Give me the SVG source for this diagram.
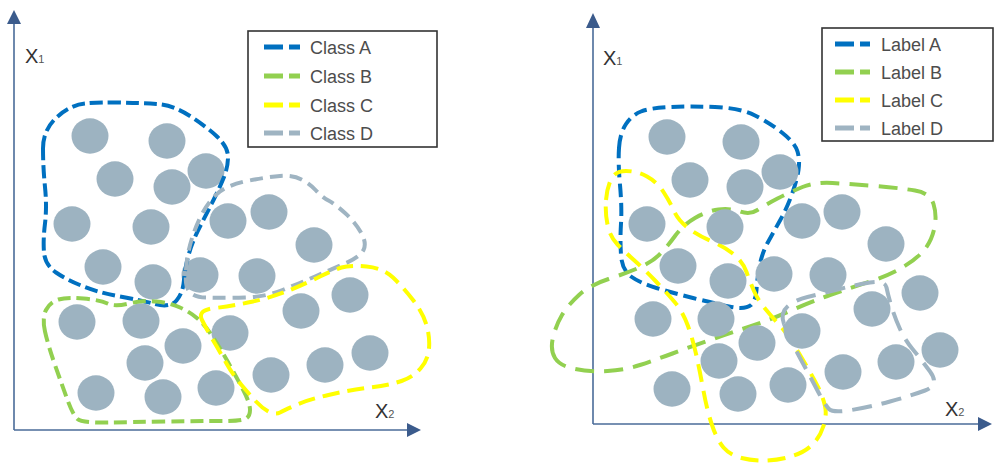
<svg xmlns="http://www.w3.org/2000/svg" width="995" height="463" viewBox="0 0 995 463">
  <defs>
    <style>
      .axis { stroke: #4a6b99; stroke-width: 1.6; fill: none; }
      .head { fill: #3b5b8c; }
      .pt { fill: #9db3c1; }
      .hull { fill: none; stroke-width: 4; stroke-linejoin: round; }
      .a { stroke: #0070c0; }
      .b { stroke: #92d050; }
      .c { stroke: #ffff00; }
      .d { stroke: #9fb4c2; }
      .key { fill: #ffffff; stroke: #333333; stroke-width: 1.6; }
      .keyline { stroke-width: 5; stroke-dasharray: 19 6; }
      .keytxt { font-family: "Liberation Sans", Arial, sans-serif; font-size: 18px; fill: #4d4d4d; }
      .ax { font-family: "Liberation Sans", Arial, sans-serif; font-size: 20px; fill: #333333; }
      .sub { font-size: 11px; fill: #555555; }
    </style>
    <ellipse id="dot" class="pt" cx="0" cy="0" rx="18.5" ry="17.7"/>
  </defs>

  <!-- left panel: axes -->
  <g id="left-axes">
    <line class="axis" x1="14" y1="22" x2="14" y2="430"/>
    <line class="axis" x1="14" y1="430" x2="409" y2="430"/>
    <polygon class="head" points="14,10 7,24 21,24"/>
    <polygon class="head" points="421,430 407,423 407,437"/>
    <text class="ax" x="25" y="63">X<tspan class="sub">1</tspan></text>
    <text class="ax" x="375" y="418">X<tspan class="sub">2</tspan></text>
  </g>

  <!-- left panel: samples -->
  <g id="left-points">
    <use href="#dot" x="90" y="136"/>
    <use href="#dot" x="167" y="141"/>
    <use href="#dot" x="115" y="179"/>
    <use href="#dot" x="172" y="187"/>
    <use href="#dot" x="206" y="171"/>
    <use href="#dot" x="72" y="224"/>
    <use href="#dot" x="151" y="227"/>
    <use href="#dot" x="228" y="221"/>
    <use href="#dot" x="269" y="212"/>
    <use href="#dot" x="103" y="267"/>
    <use href="#dot" x="153" y="282"/>
    <use href="#dot" x="200" y="275"/>
    <use href="#dot" x="257" y="276"/>
    <use href="#dot" x="314" y="245"/>
    <use href="#dot" x="77" y="322"/>
    <use href="#dot" x="141" y="321"/>
    <use href="#dot" x="183" y="346"/>
    <use href="#dot" x="145" y="363"/>
    <use href="#dot" x="230" y="333"/>
    <use href="#dot" x="301" y="311"/>
    <use href="#dot" x="350" y="295"/>
    <use href="#dot" x="96" y="393"/>
    <use href="#dot" x="163" y="397"/>
    <use href="#dot" x="216" y="388"/>
    <use href="#dot" x="271" y="375"/>
    <use href="#dot" x="325" y="365"/>
    <use href="#dot" x="370" y="353"/>
  </g>

  <!-- left panel: class boundaries -->
  <g id="left-classes">
    <path id="class-a" class="hull a" stroke-dasharray="13 5" d="M43,148.5 Q43,130 56.5,117.5 Q70,105 85,103.5 Q100,102 120,102.5 Q140,103 156.5,104 Q173,105 190,116 Q207,127 217.5,137 Q228,147 228,157 Q228,167 224,177 Q220,187 213.5,200 Q207,213 200,226.5 Q193,240 189,253.5 Q185,267 184,280 Q183,293 176.5,300.5 Q170,308 155,304 Q140,300 120,296.5 Q100,293 83.5,286.5 Q67,280 56,272.5 Q45,265 44,252.5 Q43,240 45,223.5 Q47,207 45,187 Q43,167 43,148.5 Z"/>
    <path id="class-d" class="hull d" stroke-dasharray="13 7" d="M206,297.5 Q187,297 186,282.5 Q185,268 188.5,251.5 Q192,235 199.5,219 Q207,203 217,194 Q227,185 247,181 Q267,177 280,176 Q293,175 301.5,179.5 Q310,184 316,190.5 Q322,197 328.5,200.5 Q335,204 345,213 Q355,222 361,232.5 Q367,243 363.5,250 Q360,257 345,263.5 Q330,270 315,276.5 Q300,283 282.5,290 Q265,297 245,297.5 Q225,298 206,297.5 Z"/>
    <path id="class-b" class="hull b" stroke-dasharray="13 6" d="M45,331.5 Q42,318 46,310 Q50,302 58.5,299.5 Q67,297 83.5,298.5 Q100,300 107.5,303.5 Q115,307 129,303.5 Q143,300 156.5,301.5 Q170,303 180,307.5 Q190,312 197.5,318.5 Q205,325 212.5,336.5 Q220,348 228.5,363 Q237,378 243.5,390.5 Q250,403 250,410 Q250,417 245,419 Q240,421 220,421 Q200,421 166.5,421.5 Q133,422 107.5,422.5 Q82,423 77.5,419 Q73,415 67.5,400 Q62,385 55,365 Q48,345 45,331.5 Z"/>
    <path id="class-c" class="hull c" stroke-dasharray="17 8" d="M202,320 Q197,310 215,308 Q233,306 253,301.5 Q273,297 290,290 Q307,283 320,276.5 Q333,270 341.5,267.5 Q350,265 366.5,266.5 Q383,268 393,277.5 Q403,287 413,300 Q423,313 426.5,325 Q430,337 429,348.5 Q428,360 420.5,368.5 Q413,377 401.5,381 Q390,385 370,387.5 Q350,390 328.5,395 Q307,400 296,405 Q285,410 280,412.5 Q275,415 268.5,411.5 Q262,408 256,401.5 Q250,395 241.5,385 Q233,375 226.5,363.5 Q220,352 213.5,341 Q207,330 202,320 Z"/>
  </g>

  <!-- left legend -->
  <g id="left-legend">
    <rect class="key" x="248" y="31" width="189" height="116"/>
    <line class="keyline a" x1="264" y1="47" x2="300" y2="47"/>
    <line class="keyline b" x1="264" y1="76" x2="300" y2="76"/>
    <line class="keyline c" x1="264" y1="105" x2="300" y2="105"/>
    <line class="keyline d" x1="264" y1="133" x2="300" y2="133"/>
    <text class="keytxt" x="310" y="53.5">Class A</text>
    <text class="keytxt" x="310" y="82.5">Class B</text>
    <text class="keytxt" x="310" y="111.5">Class C</text>
    <text class="keytxt" x="310" y="139.5">Class D</text>
  </g>

  <!-- right panel: axes -->
  <g id="right-axes">
    <line class="axis" x1="593" y1="25" x2="593" y2="424"/>
    <line class="axis" x1="593" y1="424" x2="980" y2="424"/>
    <polygon class="head" points="593,13 586,28 600,28"/>
    <polygon class="head" points="992,424 978,417 978,431"/>
    <text class="ax" x="603" y="65">X<tspan class="sub">1</tspan></text>
    <text class="ax" x="945" y="416">X<tspan class="sub">2</tspan></text>
  </g>

  <!-- right panel: label boundaries (drawn beneath the samples) -->
  <g id="right-labels">
    <path id="label-a" class="hull a" stroke-dasharray="13 6" d="M619,148 Q620,133 626,124 Q632,115 641,111.5 Q650,108 670,107 Q690,106 715,107 Q740,108 755,115.5 Q770,123 782.5,133 Q795,143 797.5,151.5 Q800,160 798.5,170 Q797,180 792,194 Q787,208 780,220.5 Q773,233 767.5,243 Q762,253 759.5,266.5 Q757,280 756.5,290 Q756,300 751,305 Q745,310 729,306.5 Q713,303 693,298 Q673,293 656.5,288 Q640,283 631,276.5 Q622,270 621,255 Q620,240 621,223.5 Q622,207 620,185 Q618,163 619,148 Z"/>
    <path id="label-b" class="hull b" stroke-dasharray="19 10" d="M555,358 Q550,350 553,337.5 Q556,325 562,315 Q568,305 579,295 Q590,285 608.5,279 Q627,273 639.5,267.5 Q652,262 659.5,254.5 Q667,247 675,236 Q683,225 695,218 Q707,211 718.5,209.5 Q730,208 740,211.5 Q750,215 757.5,210 Q765,205 777.5,198.5 Q790,192 802.5,187 Q815,182 832.5,183 Q850,184 875,186 Q900,188 915,190.5 Q930,193 933.5,204 Q937,215 934.5,227.5 Q932,240 925,249 Q918,258 904,266.5 Q890,275 870,281.5 Q850,288 830,295 Q810,302 790,311 Q770,320 750,326.5 Q730,333 710,340 Q690,347 672.5,353.5 Q655,360 640,365 Q625,370 607.5,371 Q590,372 575,369 Q560,366 555,358 Z"/>
    <path id="label-c" class="hull c" stroke-dasharray="18 9" d="M606,200 Q607,188 611,179.5 Q615,171 626,171 Q637,171 647,176.5 Q657,182 663.5,192 Q670,202 674,211 Q678,220 687.5,227.5 Q697,235 711,241 Q725,247 734,254.5 Q743,262 746.5,272 Q750,282 754,291 Q758,300 765,308.5 Q772,317 779.5,325 Q787,333 793.5,344 Q800,355 806.5,366 Q813,377 818,387 Q823,397 825,406 Q827,415 823.5,426 Q820,437 812.5,444.5 Q805,452 792.5,456 Q780,460 766.5,460.5 Q753,461 741.5,458 Q730,455 723.5,447.5 Q717,440 712,425 Q707,410 703.5,391 Q700,372 696.5,356 Q693,340 688,326 Q683,312 675,302.5 Q667,293 656,281.5 Q645,270 635,261 Q625,252 617.5,244.5 Q610,237 607.5,224.5 Q605,212 606,200 Z"/>
    <path id="label-d" class="hull d" stroke-dasharray="20 10" d="M784,324 Q780,313 787.5,306.5 Q795,300 807.5,297 Q820,294 837.5,289.5 Q855,285 870,282.5 Q885,280 886.5,287.5 Q888,295 891.5,306.5 Q895,318 900,329 Q905,340 912.5,349 Q920,358 930,371.5 Q940,385 925,390.5 Q910,396 890,401.5 Q870,407 851.5,410 Q833,413 829,409 Q825,405 818.5,392.5 Q812,380 806,369 Q800,358 794,346.5 Q788,335 784,324 Z"/>
  </g>

  <!-- right panel: samples -->
  <g id="right-points">
    <use href="#dot" x="667" y="137"/>
    <use href="#dot" x="741" y="142"/>
    <use href="#dot" x="690" y="180"/>
    <use href="#dot" x="745" y="187"/>
    <use href="#dot" x="780" y="172"/>
    <use href="#dot" x="647" y="224"/>
    <use href="#dot" x="725" y="227"/>
    <use href="#dot" x="802" y="221"/>
    <use href="#dot" x="842" y="212"/>
    <use href="#dot" x="886" y="244"/>
    <use href="#dot" x="678" y="266"/>
    <use href="#dot" x="728" y="281"/>
    <use href="#dot" x="774" y="274"/>
    <use href="#dot" x="828" y="275"/>
    <use href="#dot" x="653" y="319"/>
    <use href="#dot" x="716" y="319"/>
    <use href="#dot" x="757" y="343"/>
    <use href="#dot" x="719" y="361"/>
    <use href="#dot" x="802" y="331"/>
    <use href="#dot" x="872" y="309"/>
    <use href="#dot" x="920" y="293"/>
    <use href="#dot" x="672" y="389"/>
    <use href="#dot" x="738" y="394"/>
    <use href="#dot" x="788" y="385"/>
    <use href="#dot" x="843" y="372"/>
    <use href="#dot" x="896" y="362"/>
    <use href="#dot" x="940" y="350"/>
  </g>

  <!-- right legend -->
  <g id="right-legend">
    <rect class="key" x="822" y="28" width="171" height="113"/>
    <line class="keyline a" x1="835" y1="44" x2="870" y2="44"/>
    <line class="keyline b" x1="835" y1="72" x2="870" y2="72"/>
    <line class="keyline c" x1="835" y1="100" x2="870" y2="100"/>
    <line class="keyline d" x1="835" y1="128" x2="870" y2="128"/>
    <text class="keytxt" x="881" y="50.5">Label A</text>
    <text class="keytxt" x="881" y="78.5">Label B</text>
    <text class="keytxt" x="881" y="106.5">Label C</text>
    <text class="keytxt" x="881" y="134.5">Label D</text>
  </g>
</svg>
